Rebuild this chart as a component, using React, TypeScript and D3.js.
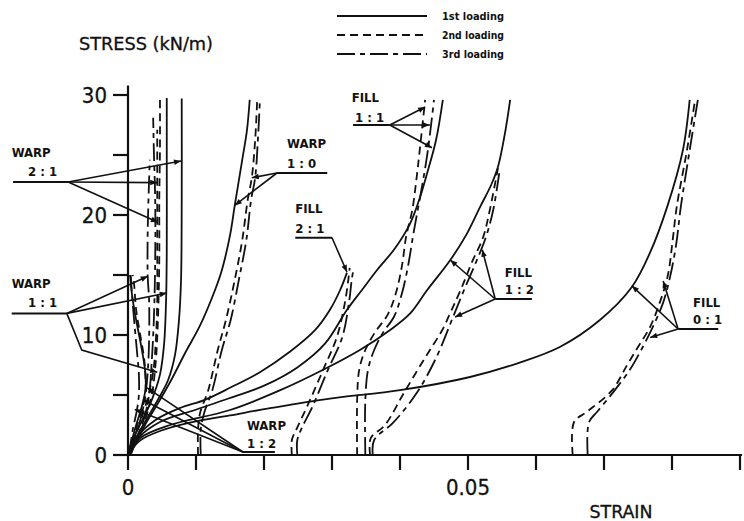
import React from "react";
import * as d3 from "d3";

type Pt = [number, number];

// ---------- axes ----------
const strainTicks = [0, 0.01, 0.02, 0.03, 0.04, 0.05, 0.06, 0.07, 0.08, 0.09];
const strainTickLabels: { value: number; label: string }[] = [
  { value: 0, label: "0" },
  { value: 0.05, label: "0.05" },
];
const stressTicks = [0, 5, 10, 15, 20, 25, 30];
const stressTickLabels = [0, 10, 20, 30];
const loadingNames = ["1st loading", "2nd loading", "3rd loading"];

// ---------- curves: [strain, stress (kN/m)] ----------
const warp21_1: Pt[] = [[0, 0], [0.001, 1.25], [0.0025, 2.75], [0.0044, 4.6], [0.0059, 6.25], [0.0069, 8.3], [0.0075, 11.25], [0.0078, 14.6], [0.0079, 21.25], [0.0079, 29.7]];
const warp21_2: Pt[] = [[0.0003, 0], [0.0013, 1.25], [0.0025, 2.9], [0.0035, 5.0], [0.0041, 7.9], [0.0044, 11.25], [0.0046, 16.25], [0.0046, 21.25], [0.0047, 25.4], [0.0047, 29.8]];
const warp21_3: Pt[] = [[0.0004, 0], [0.0013, 1.4], [0.0024, 3.1], [0.0031, 5.0], [0.0035, 7.9], [0.0038, 11.25], [0.004, 16.25], [0.004, 21.25], [0.0038, 25.4], [0.0037, 28.1]];

const warp11_1: Pt[] = [[0, 0], [0.0007, 1.25], [0.0021, 2.9], [0.0035, 4.6], [0.0047, 6.7], [0.0053, 9.2], [0.0056, 12.9], [0.0057, 17.1], [0.0057, 24.6], [0.0057, 29.75]];
const warp11_2: Pt[] = [[0.00015, 0], [0.0009, 1.25], [0.0019, 2.9], [0.0029, 4.75], [0.0037, 6.9], [0.0041, 9.6], [0.0043, 12.9], [0.0043, 17.1], [0.0043, 21.25], [0.0043, 27.1]];
const warp11_3: Pt[] = [[0.00015, 0], [0.0009, 1.4], [0.0018, 2.9], [0.0025, 4.75], [0.0029, 6.9], [0.0031, 9.6], [0.0031, 12.9], [0.0029, 14.9], [0.0029, 18.75], [0.0032, 24.6]];

const warp12_1: Pt[] = [[0, 0], [0.001, 2.1], [0.0021, 4.2], [0.0026, 5.6], [0.0025, 7.1], [0.0019, 9.2], [0.0012, 11.25], [0.0006, 13.3], [0.0003, 15]];
const warp12_2: Pt[] = [[0.00015, 0], [0.001, 1.7], [0.0019, 3.6], [0.0025, 4.75], [0.0026, 5.8], [0.0024, 7.9], [0.0018, 10], [0.0012, 12.1], [0.0009, 14.2], [0.0007, 15]];
const warp12_3: Pt[] = [[0.00015, 0], [0.0007, 2.1], [0.0013, 3.7], [0.0016, 5], [0.0016, 6.7], [0.0013, 8.75], [0.0009, 11.25], [0.0006, 13.3], [0.0004, 15]];

const warp10_1: Pt[] = [[0, 0], [0.001, 0.8], [0.0025, 2.5], [0.0044, 4.3], [0.0065, 6.4], [0.0084, 8.5], [0.0106, 10.8], [0.0128, 13.75], [0.0138, 15.4], [0.015, 18.3], [0.0157, 20.8], [0.0168, 24.6], [0.0175, 27.1], [0.0179, 29.6]];
const warp10_2: Pt[] = [[0.0103, 0], [0.0103, 2.1], [0.0106, 3.5], [0.0118, 5.4], [0.0132, 8.75], [0.0144, 11.25], [0.0157, 14.6], [0.0168, 17.9], [0.0176, 21.25], [0.0182, 23.1], [0.0187, 26.25], [0.019, 29.6]];
const warp10_3: Pt[] = [[0.0107, 0], [0.0107, 2.1], [0.0112, 3.5], [0.0124, 5.4], [0.0138, 8.75], [0.0151, 11.25], [0.0163, 14.6], [0.0174, 17.9], [0.0181, 21.25], [0.0187, 23.1], [0.0191, 26.25], [0.0194, 29.6]];

const fill11_1: Pt[] = [[0, 0], [0.00147, 1.4], [0.0047, 2.75], [0.00985, 3.75], [0.015, 4.75], [0.0201, 5.8], [0.0249, 7.3], [0.029, 9.3], [0.0322, 12.1], [0.0344, 13.75], [0.0366, 15.4], [0.0393, 17.25], [0.0415, 19.3], [0.0429, 21.4], [0.044, 23.5], [0.0453, 26.25], [0.0463, 29.6]];
const fill11_2: Pt[] = [[0.0337, 0], [0.0337, 4.6], [0.034, 7.1], [0.0349, 8.75], [0.0363, 10.2], [0.0382, 11.7], [0.0394, 13.5], [0.0403, 15.8], [0.0409, 18.2], [0.0418, 20.4], [0.0424, 22.9], [0.0429, 25.4], [0.0437, 29.6]];
const fill11_3: Pt[] = [[0.0349, 0], [0.0349, 4.6], [0.0353, 7.1], [0.0362, 8.75], [0.0375, 10.2], [0.0391, 11.5], [0.0403, 13.5], [0.0412, 15.8], [0.0419, 18.2], [0.0426, 20.4], [0.0434, 22.9], [0.0441, 25.4], [0.045, 29.6]];

const fill21_1: Pt[] = [[0, 0], [0.00147, 1.6], [0.004, 2.9], [0.0076, 3.9], [0.0113, 4.6], [0.015, 5.6], [0.0194, 6.9], [0.0238, 8.6], [0.0275, 10.4], [0.0297, 12.1], [0.0312, 13.75], [0.0322, 15.2]];
const fill21_2: Pt[] = [[0.0241, 0], [0.0241, 1.25], [0.0249, 2.3], [0.0263, 4.0], [0.0287, 7.1], [0.0307, 9.8], [0.0319, 12.7], [0.0324, 14.6], [0.0326, 15.6]];
const fill21_3: Pt[] = [[0.0249, 0], [0.0249, 1.25], [0.0256, 2.3], [0.0271, 4.0], [0.0294, 7.1], [0.0315, 9.8], [0.0325, 12.7], [0.0329, 14.6], [0.0332, 15.6]];

const fill12_1: Pt[] = [[0, 0], [0.00176, 1.4], [0.0062, 2.5], [0.015, 3.75], [0.0224, 5.4], [0.0287, 7.1], [0.0341, 8.75], [0.0385, 10.4], [0.0415, 11.8], [0.044, 13.75], [0.0474, 16.25], [0.0497, 18.3], [0.0518, 20.7], [0.0534, 22.5], [0.0544, 24], [0.0554, 26.7], [0.0562, 29.6]];
const fill12_2: Pt[] = [[0.0356, 0], [0.0357, 1.4], [0.0378, 2.5], [0.0404, 5], [0.0426, 7.1], [0.0444, 8.75], [0.0462, 10.4], [0.0476, 12.1], [0.0491, 14], [0.0506, 16.1], [0.0522, 18.1], [0.0532, 20.4], [0.0544, 23.9]];
const fill12_3: Pt[] = [[0.036, 0], [0.0362, 1.25], [0.039, 2.7], [0.0425, 5.2], [0.0454, 8.2], [0.0478, 11.5], [0.0496, 14], [0.0512, 16.1], [0.0526, 18.1], [0.0537, 20.4], [0.0547, 23.9]];

const fill01_1: Pt[] = [[0, 0], [0.00176, 1.2], [0.0047, 2.0], [0.0091, 2.7], [0.015, 3.3], [0.0209, 3.9], [0.0297, 4.7], [0.04, 5.4], [0.0503, 6.5], [0.0576, 7.7], [0.0635, 9.0], [0.0694, 11.25], [0.0741, 14], [0.0768, 16.9], [0.0793, 20.7], [0.0816, 25.4], [0.0826, 29.6]];
const fill01_2: Pt[] = [[0.0654, 0], [0.0656, 2.75], [0.0675, 3.6], [0.0712, 5.4], [0.0734, 7.5], [0.075, 9.0], [0.0768, 10.7], [0.0782, 12.7], [0.0794, 15], [0.0801, 17.9], [0.0807, 20.7], [0.0822, 25.4], [0.0834, 29.6]];
const fill01_3: Pt[] = [[0.0676, 0], [0.0678, 2.75], [0.069, 3.6], [0.0713, 5.2], [0.0738, 7.1], [0.0757, 9.0], [0.0772, 10.7], [0.0787, 12.7], [0.0797, 14.8], [0.0806, 17.5], [0.0813, 20.7], [0.0826, 25.4], [0.0838, 29.6]];

const curveSets: Pt[][][] = [
  [warp21_1, warp21_2, warp21_3],
  [warp11_1, warp11_2, warp11_3],
  [warp12_1, warp12_2, warp12_3],
  [warp10_1, warp10_2, warp10_3],
  [fill11_1, fill11_2, fill11_3],
  [fill21_1, fill21_2, fill21_3],
  [fill12_1, fill12_2, fill12_3],
  [fill01_1, fill01_2, fill01_3],
];

// ---------- annotations (data coordinates) ----------
type Ann = {
  l1: string; l2: string;
  t1: Pt; t2: Pt;
  under: [number, number, number]; // x1, x2, y
  hub: Pt;
  tips: Pt[][]; // each is path after hub (last point is the arrow tip)
};
const annotations: Ann[] = [
  { l1: "WARP", l2: "2 : 1", t1: [-0.0171, 24.8], t2: [-0.0147, 23.25], under: [-0.0169, -0.0088, 22.75], hub: [-0.0088, 22.75],
    tips: [[[0.0078, 24.5]], [[0.0043, 22.7]], [[0.0044, 19.4]]] },
  { l1: "WARP", l2: "1 : 1", t1: [-0.0171, 13.9], t2: [-0.0147, 12.3], under: [-0.0171, -0.009, 11.8], hub: [-0.009, 11.8],
    tips: [[[0.0029, 14.9]], [[0.0057, 13.5]], [[-0.0068, 8.75], [0.0043, 6.9]]] },
  { l1: "WARP", l2: "1 : 0", t1: [0.0234, 25.6], t2: [0.0234, 23.9], under: [0.0219, 0.0293, 23.5], hub: [0.0219, 23.5],
    tips: [[[0.0182, 23.1]], [[0.0157, 20.8]]] },
  { l1: "WARP", l2: "1 : 2", t1: [0.0175, 2.1], t2: [0.0175, 0.6], under: [0.0169, 0.0216, 0.25], hub: [0.0169, 0.25],
    tips: [[[0.0028, 5.6]], [[0.0022, 4.6]], [[0.001, 3.8]]] },
  { l1: "FILL", l2: "1 : 1", t1: [0.0329, 29.4], t2: [0.0334, 27.75], under: [0.0331, 0.0385, 27.5], hub: [0.0385, 27.5],
    tips: [[[0.0437, 29]], [[0.0444, 27.5]], [[0.0447, 25.6]]] },
  { l1: "FILL", l2: "2 : 1", t1: [0.0246, 20.2], t2: [0.0246, 18.5], under: [0.0246, 0.03, 18.1], hub: [0.03, 18.1],
    tips: [[[0.0322, 15.25]]] },
  { l1: "FILL", l2: "1 : 2", t1: [0.0554, 14.8], t2: [0.0554, 13.4], under: [0.054, 0.0594, 13], hub: [0.054, 13],
    tips: [[[0.0474, 16.25]], [[0.0521, 17.1]], [[0.0481, 11.5]]] },
  { l1: "FILL", l2: "0 : 1", t1: [0.0831, 12.3], t2: [0.0831, 10.9], under: [0.0809, 0.0868, 10.5], hub: [0.0809, 10.5],
    tips: [[[0.0741, 14.1]], [[0.0787, 14.5]], [[0.0768, 9.8]]] },
];

const W = 744;
const H = 521;
const dashes = ["none", "8 5", "18 5 5 5"];
const condensed = "'DejaVu Sans Condensed', 'DejaVu Sans', sans-serif";

export default function App() {
  const x = d3.scaleLinear().domain([0, 0.09]).range([128, 740]);
  const y = d3.scaleLinear().domain([0, 30]).range([455, 95]);
  const line = d3
    .line<Pt>()
    .x((d) => x(d[0]))
    .y((d) => y(d[1]))
    .curve(d3.curveCatmullRom.alpha(0.5));
  const straight = d3
    .line<Pt>()
    .x((d) => x(d[0]))
    .y((d) => y(d[1]));

  return (
    <svg
      width={W}
      height={H}
      viewBox={`0 0 ${W} ${H}`}
      style={{ position: "absolute", left: 0, top: 0, background: "#fff" }}
    >
      <defs>
        <marker id="arr" viewBox="0 0 10 10" refX="10" refY="5" markerWidth="9" markerHeight="7"
          markerUnits="userSpaceOnUse" orient="auto">
          <path d="M0,1 L10,5 L0,9 z" fill="#111" />
        </marker>
      </defs>
      <rect x={0} y={0} width={W} height={H} fill="#fff" />

      {/* title */}
      <text x={79} y={50} fontFamily={condensed} fontSize={17} fill="#111" stroke="#111" strokeWidth={0.3}
        textLength={134} lengthAdjust="spacingAndGlyphs">
        STRESS (kN/m)
      </text>

      {/* legend */}
      {loadingNames.map((name, i) => (
        <g key={name}>
          <line x1={337} x2={427} y1={16 + i * 19} y2={16 + i * 19} stroke="#111" strokeWidth={1.9}
            strokeDasharray={dashes[i]} />
          <text x={442} y={20 + i * 19} fontFamily={condensed} fontWeight="bold" fontSize={11} fill="#111"
            textLength={62} lengthAdjust="spacingAndGlyphs">
            {name}
          </text>
        </g>
      ))}

      {/* axes */}
      <g stroke="#111" strokeWidth={2.2} fill="none">
        <line x1={x(0)} x2={x(0)} y1={y(0)} y2={y(30.8)} />
        <line x1={x(0)} x2={x(0.0903)} y1={y(0)} y2={y(0)} />
        {stressTicks.map((t) => (
          <line key={"yt" + t} x1={x(0) - 15} x2={x(0)} y1={y(t)} y2={y(t)} />
        ))}
        {strainTicks.map((t) => (
          <line key={"xt" + t} x1={x(t)} x2={x(t)} y1={y(0)} y2={y(0) + 15} />
        ))}
      </g>
      {stressTickLabels.map((t) => (
        <text key={"yl" + t} x={x(0) - 21} y={y(t)} dy="0.36em" textAnchor="end" fontFamily={condensed}
          fontSize={22} fill="#111" stroke="#111" strokeWidth={0.3}>
          {t}
        </text>
      ))}
      {strainTickLabels.map((t) => (
        <text key={"xl" + t.label} x={x(t.value)} y={y(0) + 40} textAnchor="middle" fontFamily={condensed}
          fontSize={22} fill="#111" stroke="#111" strokeWidth={0.3}>
          {t.label}
        </text>
      ))}
      <text x={621} y={518} textAnchor="middle" fontFamily={condensed} fontSize={17} fill="#111"
        stroke="#111" strokeWidth={0.3} textLength={63} lengthAdjust="spacingAndGlyphs">
        STRAIN
      </text>

      {/* curves */}
      <g fill="none" stroke="#111" strokeWidth={1.8}>
        {curveSets.map((set, si) =>
          set.map((pts, li) => (
            <path key={`c${si}-${li}`} d={line(pts) || ""} strokeDasharray={dashes[li]} />
          ))
        )}
      </g>

      {/* annotations */}
      {annotations.map((a, ai) => (
        <g key={"a" + ai}>
          <text x={x(a.t1[0])} y={y(a.t1[1])} fontFamily={condensed} fontWeight="bold" fontSize={13} fill="#111">
            {a.l1}
          </text>
          <text x={x(a.t2[0])} y={y(a.t2[1])} fontFamily={condensed} fontWeight="bold" fontSize={13} fill="#111">
            {a.l2}
          </text>
          <line x1={x(a.under[0])} x2={x(a.under[1])} y1={y(a.under[2])} y2={y(a.under[2])} stroke="#111"
            strokeWidth={2} />
          {a.tips.map((p, pi) => (
            <path key={"l" + pi} d={straight([a.hub, ...p]) || ""} fill="none" stroke="#111" strokeWidth={1.6}
              markerEnd="url(#arr)" />
          ))}
        </g>
      ))}
    </svg>
  );
}
